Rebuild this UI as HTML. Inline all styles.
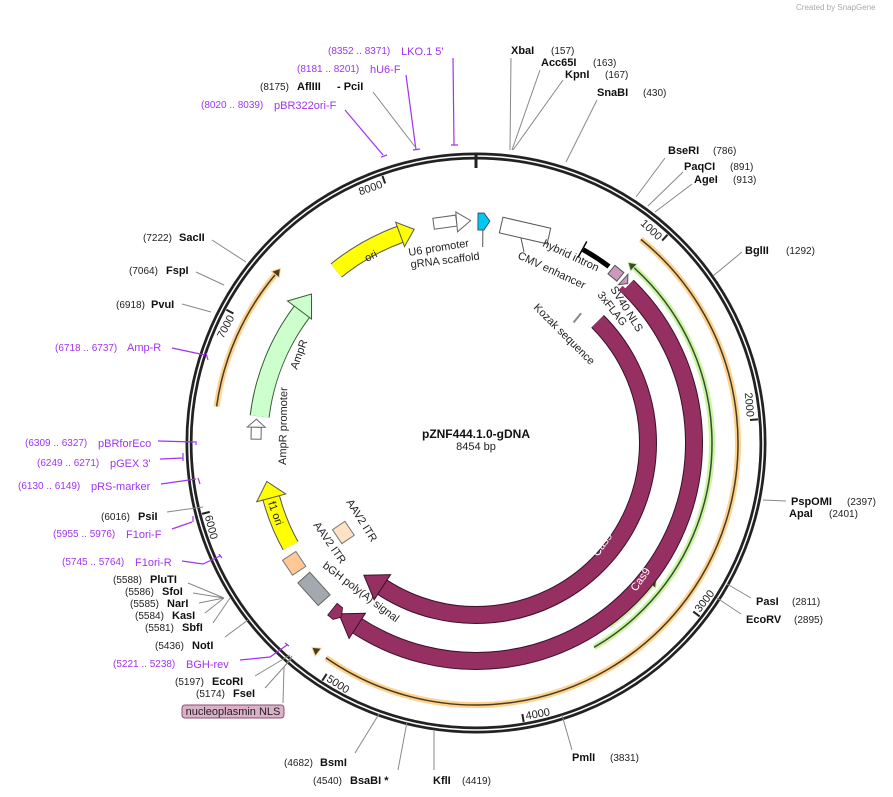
<!DOCTYPE html>
<html><head><meta charset="utf-8"><style>
html,body{margin:0;padding:0;background:#fff;}
svg{display:block;font-family:"Liberation Sans",sans-serif;}
.n{font-size:10px;fill:#222;}
.e{font-size:11px;font-weight:bold;fill:#111;}
.pn{font-size:10px;fill:#a033f0;}
.p{font-size:11px;fill:#a033f0;}
.l{stroke:#888;stroke-width:1;fill:none;}
.pl{stroke:#a033f0;stroke-width:1.2;fill:none;}
.f{font-size:11px;fill:#222;}
</style></head><body>
<svg width="893" height="797" viewBox="0 0 893 797" xmlns="http://www.w3.org/2000/svg">
<text x="796" y="10" font-size="8" fill="#aaa">Created by SnapGene</text>

<!-- backbone -->
<circle cx="476" cy="443" r="287" fill="none" stroke="#222" stroke-width="7"/>
<circle cx="476" cy="443" r="287" fill="none" stroke="#fff" stroke-width="1.5"/>
<line x1="476" y1="155" x2="476" y2="168" stroke="#222" stroke-width="3"/>

<!-- ticks -->
<g transform="rotate(42.6 476 443)"><line x1="476" y1="160" x2="476" y2="168" stroke="#222" stroke-width="2"/><text x="473" y="171" text-anchor="end" class="f">1000</text></g>
<g transform="rotate(85.2 476 443)"><line x1="476" y1="160" x2="476" y2="168" stroke="#222" stroke-width="2"/><text x="473" y="171" text-anchor="end" class="f">2000</text></g>
<g transform="rotate(-52.2 476 443)"><line x1="476" y1="718" x2="476" y2="726" stroke="#222" stroke-width="2"/><text x="479" y="724" class="f">3000</text></g>
<g transform="rotate(-9.7 476 443)"><line x1="476" y1="718" x2="476" y2="726" stroke="#222" stroke-width="2"/><text x="479" y="724" class="f">4000</text></g>
<g transform="rotate(32.9 476 443)"><line x1="476" y1="718" x2="476" y2="726" stroke="#222" stroke-width="2"/><text x="479" y="724" class="f">5000</text></g>
<g transform="rotate(75.5 476 443)"><line x1="476" y1="718" x2="476" y2="726" stroke="#222" stroke-width="2"/><text x="479" y="724" class="f">6000</text></g>
<g transform="rotate(298.1 476 443)"><line x1="476" y1="160" x2="476" y2="168" stroke="#222" stroke-width="2"/><text x="473" y="171" text-anchor="end" class="f">7000</text></g>
<g transform="rotate(340.7 476 443)"><line x1="476" y1="160" x2="476" y2="168" stroke="#222" stroke-width="2"/><text x="473" y="171" text-anchor="end" class="f">8000</text></g>

<!-- orange arcs -->
<g fill="none">
<circle cx="476" cy="443" r="262" pathLength="360" stroke="#fdd28e" stroke-width="6" stroke-dasharray="176 360" transform="rotate(-51 476 443)"/>
<circle cx="476" cy="443" r="262" pathLength="360" stroke="#4a3a20" stroke-width="1.5" stroke-dasharray="176 360" transform="rotate(-51 476 443)"/>
<circle cx="476" cy="443" r="262" pathLength="360" stroke="#fdd28e" stroke-width="6" stroke-dasharray="32 360" transform="rotate(188 476 443)"/>
<circle cx="476" cy="443" r="262" pathLength="360" stroke="#4a3a20" stroke-width="1.5" stroke-dasharray="32 360" transform="rotate(188 476 443)"/>
<!-- green arcs -->
<circle cx="476" cy="443" r="236" pathLength="360" stroke="#c9f5a0" stroke-width="6" stroke-dasharray="108 360" transform="rotate(-48 476 443)"/>
<circle cx="476" cy="443" r="236" pathLength="360" stroke="#3a4a30" stroke-width="1.5" stroke-dasharray="108 360" transform="rotate(-48 476 443)"/>
<circle cx="476" cy="443" r="226" pathLength="360" stroke="#c9f5a0" stroke-width="6" stroke-dasharray="15 360" transform="rotate(39 476 443)"/>
<circle cx="476" cy="443" r="226" pathLength="360" stroke="#3a4a30" stroke-width="1.5" stroke-dasharray="15 360" transform="rotate(39 476 443)"/>
</g>
<g transform="rotate(217 476 443)"><polygon points="476,176 476,186 484,181" fill="#4a3a20" stroke="#fdd28e" stroke-width="1"/></g>
<g transform="rotate(310 476 443)"><polygon points="476,176 476,186 484,181" fill="#4a3a20" stroke="#fdd28e" stroke-width="1"/></g>
<g transform="rotate(42 476 443)"><polygon points="476,202 476,212 468,207" fill="#3a4a30" stroke="#c9f5a0" stroke-width="1"/></g>
<g transform="rotate(129 476 443)"><polygon points="476,212 476,222 468,217" fill="#3a4a30" stroke="#c9f5a0" stroke-width="1"/></g>

<!-- Cas9 arcs -->
<g fill="none">
<circle cx="476" cy="443" r="218" pathLength="360" stroke="#3a1028" stroke-width="18" stroke-dasharray="169 360" transform="rotate(-46 476 443)"/>
<circle cx="476" cy="443" r="218" pathLength="360" stroke="#963062" stroke-width="16" stroke-dasharray="169 360" transform="rotate(-46 476 443)"/>
<circle cx="476" cy="443" r="172" pathLength="360" stroke="#3a1028" stroke-width="18" stroke-dasharray="168 360" transform="rotate(-45 476 443)"/>
<circle cx="476" cy="443" r="172" pathLength="360" stroke="#963062" stroke-width="16" stroke-dasharray="168 360" transform="rotate(-45 476 443)"/>
</g>
<g transform="rotate(213 476 443)"><polygon points="476,210 476,240 498,225" fill="#963062" stroke="#3a1028" stroke-width="1"/></g>
<g transform="rotate(213 476 443)"><polygon points="476,256 476,286 498,271" fill="#963062" stroke="#3a1028" stroke-width="1"/></g>
<text font-size="11" fill="#fff" transform="translate(598,557) rotate(-55)">Cas9</text>
<text font-size="11" fill="#fff" transform="translate(636,592) rotate(-55)">Cas9</text>

<!-- inner features -->
<g fill="none">
<circle cx="476" cy="443" r="222" pathLength="360" stroke="#555" stroke-width="18" stroke-dasharray="19 360" transform="rotate(231 476 443)"/>
<circle cx="476" cy="443" r="222" pathLength="360" stroke="#ffff00" stroke-width="16" stroke-dasharray="19 360" transform="rotate(231 476 443)"/>
<circle cx="476" cy="443" r="221" pathLength="360" stroke="#000" stroke-width="5" stroke-dasharray="8 360" transform="rotate(-61 476 443)"/>
<circle cx="476" cy="443" r="218" pathLength="360" stroke="#3a5a3a" stroke-width="20" stroke-dasharray="30 360" transform="rotate(187 476 443)"/>
<circle cx="476" cy="443" r="218" pathLength="360" stroke="#ccffcc" stroke-width="18" stroke-dasharray="30 360" transform="rotate(187 476 443)"/>
<circle cx="476" cy="443" r="212" pathLength="360" stroke="#555" stroke-width="18" stroke-dasharray="14 360" transform="rotate(151 476 443)"/>
<circle cx="476" cy="443" r="212" pathLength="360" stroke="#ffff00" stroke-width="16" stroke-dasharray="14 360" transform="rotate(151 476 443)"/>
<circle cx="476" cy="443" r="212" pathLength="360" stroke="#963062" stroke-width="6" stroke-dasharray="2 360" transform="rotate(-47 476 443)"/>
</g>
<!-- boxes -->
<g transform="rotate(352 476 443)"><rect x="464.5" y="214.5" width="23" height="11" fill="#fff" stroke="#666"/></g>
<g transform="rotate(13 476 443)"><rect x="451.5" y="217" width="49" height="16" fill="#fff" stroke="#555"/></g>
<g transform="rotate(228 476 443)"><rect x="460.8" y="217" width="30.4" height="16" fill="#a3a9af" stroke="#666"/></g>
<g transform="rotate(236.5 476 443)"><rect x="467" y="217" width="18" height="16" fill="#ffc894" stroke="#777"/></g>
<g transform="rotate(236 476 443)"><rect x="467.6" y="275.5" width="16.8" height="15" fill="#ffe2c4" stroke="#777"/></g>
<g transform="rotate(39.5 476 443)"><rect x="470.2" y="217.5" width="11.5" height="11" fill="#cc99bb" stroke="#555"/></g>
<g transform="rotate(219 476 443)"><polygon points="471,223 476,216 483,216 483,231 476,231" fill="#963062" stroke="#3a1028" stroke-width="0.8"/></g>
<!-- arrowheads inner features -->
<g transform="rotate(340 476 443)"><polygon points="476,208 476,234 491,221" fill="#ffff00" stroke="#555" stroke-width="1"/></g>
<g transform="rotate(355 476 443)"><polygon points="476,211 476,231 490,221" fill="#fff" stroke="#666" stroke-width="1"/></g>
<g transform="rotate(0.5 476 443)"><polygon points="476,213 482,213 488,221 482,230 476,230" fill="#00c8f0" stroke="#335" stroke-width="0.8"/><line x1="481" y1="230" x2="481" y2="247" stroke="#555"/></g>
<g transform="rotate(307 476 443)"><polygon points="476,207 476,237 496,222" fill="#ccffcc" stroke="#3a5a3a" stroke-width="1"/></g>
<g transform="rotate(271 476 443)"><rect x="476" y="218" width="12" height="10" fill="#fff" stroke="#666"/><polygon points="488,214 488,232 496,223" fill="#fff" stroke="#666" stroke-width="1"/></g>
<g transform="rotate(255 476 443)"><polygon points="476,216 476,246 493,231" fill="#ffff00" stroke="#555" stroke-width="1"/></g>
<g transform="rotate(42 476 443)"><polygon points="476,216 476,230 482,223" fill="#cc99bb" stroke="#555" stroke-width="1"/></g>
<g transform="rotate(28.8 476 443)"><line x1="476" y1="213" x2="476" y2="231" stroke="#000" stroke-width="1.5"/></g>
<g transform="rotate(39 476 443)"><line x1="476" y1="276" x2="476" y2="288" stroke="#888" stroke-width="2"/></g>
<line x1="521" y1="238" x2="524" y2="252" stroke="#555"/>

<!-- inner feature labels -->
<text class="f" transform="translate(367,262) rotate(-27)">ori</text>
<text class="f" transform="translate(409,256) rotate(-9)">U6 promoter</text>
<text class="f" transform="translate(411,268) rotate(-7)">gRNA scaffold</text>
<text class="f" transform="translate(542,246) rotate(25)">hybrid intron</text>
<text class="f" transform="translate(517,258) rotate(25)">CMV enhancer</text>
<text class="f" transform="translate(610,289) rotate(58)">SV40 NLS</text>
<text class="f" transform="translate(597,295) rotate(52)">3xFLAG</text>
<text class="f" transform="translate(533,308) rotate(45)">Kozak sequence</text>
<text class="f" transform="translate(297,370) rotate(-70)">AmpR</text>
<text class="f" transform="translate(286,465) rotate(-89)">AmpR promoter</text>
<text class="f" transform="translate(268,503) rotate(70)">f1 ori</text>
<text class="f" transform="translate(346,502) rotate(58)">AAV2 ITR</text>
<text class="f" transform="translate(313,525) rotate(55)">AAV2 ITR</text>
<text class="f" transform="translate(322,567) rotate(37)">bGH poly(A) signal</text>

<!-- center -->
<text x="476" y="438" text-anchor="middle" font-size="12" font-weight="bold" fill="#111">pZNF444.1.0-gDNA</text>
<text x="476" y="450" text-anchor="middle" font-size="11" fill="#222">8454 bp</text>

<!-- top labels -->
<text x="328" y="54" class="pn">(8352 .. 8371)</text><text x="401" y="55" class="p">LKO.1 5'</text>
<path class="pl" d="M453,58 L454,145 M451,145 L458,145" stroke-width="1.5"/>
<text x="297" y="72" class="pn">(8181 .. 8201)</text><text x="370" y="73" class="p">hU6-F</text>
<path class="pl" d="M406,75 L416,150 M413,150 L420,149" stroke-width="1.5"/>
<text x="260" y="90" class="n">(8175)</text><text x="297" y="90" class="e">AflIII</text><text x="337" y="90" class="e">- PciI</text>
<path class="l" d="M373,92 L416,148"/>
<text x="201" y="108" class="pn">(8020 .. 8039)</text><text x="274" y="109" class="p">pBR322ori-F</text>
<path class="pl" d="M345,110 L383,155 M381,157 L387,155" stroke-width="1.5"/>

<text x="511" y="54" class="e">XbaI</text><text x="551" y="54" class="n">(157)</text>
<text x="541" y="66" class="e">Acc65I</text><text x="593" y="66" class="n">(163)</text>
<text x="565" y="78" class="e">KpnI</text><text x="605" y="78" class="n">(167)</text>
<text x="597" y="96" class="e">SnaBI</text><text x="643" y="96" class="n">(430)</text>
<path class="l" d="M511,58 L510,150 M540,70 L512,150 M563,80 L513,150 M597,100 L566,162"/>
<text x="668" y="154" class="e">BseRI</text><text x="713" y="154" class="n">(786)</text>
<text x="684" y="170" class="e">PaqCI</text><text x="730" y="170" class="n">(891)</text>
<text x="694" y="183" class="e">AgeI</text><text x="733" y="183" class="n">(913)</text>
<path class="l" d="M665,158 L636,197 M683,172 L648,206 M692,184 L655,212"/>
<text x="745" y="254" class="e">BglII</text><text x="786" y="254" class="n">(1292)</text>
<path class="l" d="M742,252 L713,276"/>

<!-- right -->
<text x="791" y="505" class="e">PspOMI</text><text x="847" y="505" class="n">(2397)</text>
<text x="789" y="517" class="e">ApaI</text><text x="829" y="517" class="n">(2401)</text>
<path class="l" d="M763,500 L786,501"/>
<text x="756" y="605" class="e">PasI</text><text x="792" y="605" class="n">(2811)</text>
<text x="746" y="623" class="e">EcoRV</text><text x="794" y="623" class="n">(2895)</text>
<path class="l" d="M727,584 L751,598 M717,598 L741,614"/>
<text x="572" y="761" class="e">PmlI</text><text x="610" y="761" class="n">(3831)</text>
<path class="l" d="M562,715 L572,750"/>
<text x="433" y="784" class="e">KflI</text><text x="462" y="784" class="n">(4419)</text>
<path class="l" d="M434,731 L434,770"/>
<text x="313" y="784" class="n">(4540)</text><text x="350" y="784" class="e">BsaBI *</text>
<path class="l" d="M407,722 L398,770"/>
<text x="284" y="766" class="n">(4682)</text><text x="320" y="766" class="e">BsmI</text>
<path class="l" d="M379,714 L355,753"/>

<!-- left -->
<text x="143" y="241" class="n">(7222)</text><text x="179" y="241" class="e">SacII</text>
<path class="l" d="M212,240 L246,262"/>
<text x="129" y="274" class="n">(7064)</text><text x="166" y="274" class="e">FspI</text>
<path class="l" d="M196,272 L224,285"/>
<text x="116" y="308" class="n">(6918)</text><text x="151" y="308" class="e">PvuI</text>
<path class="l" d="M182,304 L211,312"/>
<text x="55" y="351" class="pn">(6718 .. 6737)</text><text x="127" y="351" class="p">Amp-R</text>
<path class="pl" d="M172,348 L205,355 M206,353 L208,360" stroke-width="1.5"/>
<text x="25" y="446" class="pn">(6309 .. 6327)</text><text x="98" y="447" class="p">pBRforEco</text>
<path class="pl" d="M158,441 L195,442 M196,441 L196,445" stroke-width="1.5"/>
<text x="37" y="466" class="pn">(6249 .. 6271)</text><text x="110" y="467" class="p">pGEX 3'</text>
<path class="pl" d="M160,459 L183,458 M183,453 L183,461" stroke-width="1.5"/>
<text x="18" y="489" class="pn">(6130 .. 6149)</text><text x="91" y="490" class="p">pRS-marker</text>
<path class="pl" d="M161,484 L196,479 M198,478 L200,484" stroke-width="1.5"/>
<text x="101" y="520" class="n">(6016)</text><text x="138" y="520" class="e">PsiI</text>
<path class="l" d="M167,512 L203,507"/>
<text x="53" y="537" class="pn">(5955 .. 5976)</text><text x="126" y="538" class="p">F1ori-F</text>
<path class="pl" d="M172,529 L192,522 M193,516 L193,522" stroke-width="1.5"/>
<text x="62" y="565" class="pn">(5745 .. 5764)</text><text x="135" y="566" class="p">F1ori-R</text>
<path class="pl" d="M182,561 L203,564 L220,556 M219,554 L222,558" stroke-width="1.5"/>
<text x="113" y="583" class="n">(5588)</text><text x="150" y="583" class="e">PluTI</text>
<text x="125" y="595" class="n">(5586)</text><text x="162" y="595" class="e">SfoI</text>
<text x="130" y="607" class="n">(5585)</text><text x="167" y="607" class="e">NarI</text>
<text x="135" y="619" class="n">(5584)</text><text x="172" y="619" class="e">KasI</text>
<text x="145" y="631" class="n">(5581)</text><text x="182" y="631" class="e">SbfI</text>
<path class="l" d="M188,583 L224,598 M193,593 L224,598 M199,603 L224,598 M205,613 L224,598 M213,623 L230,598"/>
<text x="155" y="649" class="n">(5436)</text><text x="192" y="649" class="e">NotI</text>
<path class="l" d="M225,637 L248,620"/>
<text x="113" y="667" class="pn">(5221 .. 5238)</text><text x="186" y="668" class="p">BGH-rev</text>
<path class="pl" d="M240,660 L270,657 L287,645 M285,643 L289,646" stroke-width="1.5"/>
<text x="175" y="685" class="n">(5197)</text><text x="212" y="685" class="e">EcoRI</text>
<path class="l" d="M255,676 L290,655"/>
<text x="196" y="697" class="n">(5174)</text><text x="233" y="697" class="e">FseI</text>
<path class="l" d="M265,688 L292,658"/>
<path class="l" d="M283,703 L284,667 L292,656"/>
<rect x="182" y="705" width="102" height="13" rx="3" fill="#dcb0c8" stroke="#8a4f6e"/>
<text x="233" y="715" text-anchor="middle" font-size="11" fill="#222">nucleoplasmin NLS</text>
</svg>
</body></html>
